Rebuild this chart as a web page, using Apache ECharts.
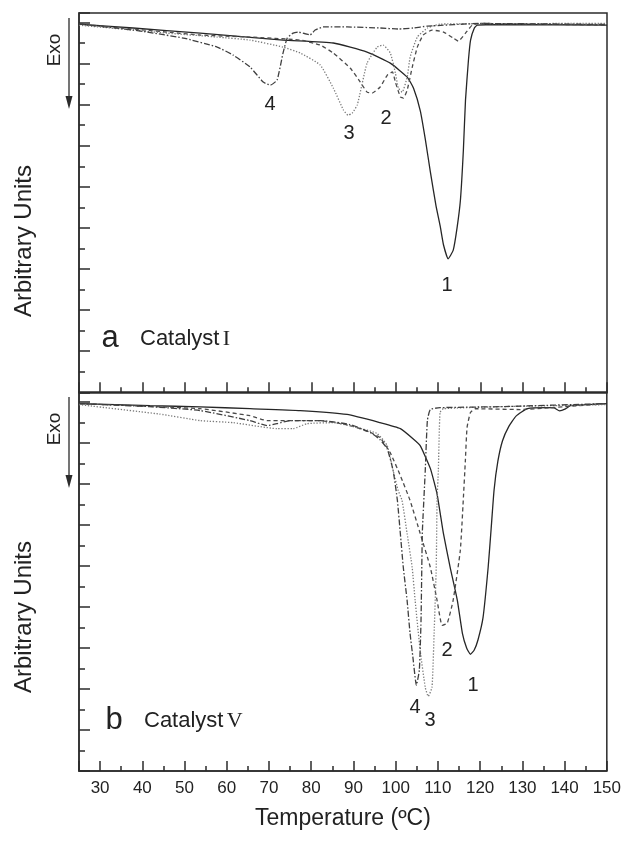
<!DOCTYPE html>
<html>
<head>
<meta charset="utf-8">
<script src="https://cdn.jsdelivr.net/npm/echarts@6/dist/echarts.min.js"></script>
<style>
html, body { margin: 0; padding: 0; background: #fff; }
#chart { width: 624px; height: 844px; }
</style>
</head>
<body>
<div id="chart"></div>
<script>
// DSC traces, [temperature (ºC), heat flow (arbitrary units)]
// panel a: Catalyst I
const a1 = [[25,-0.08],[37.8,-0.27],[53.7,-0.52],[73.3,-0.86],[85.2,-1.0],[93.2,-1.44],[98.7,-1.98],[102.7,-2.66],[104.2,-3.2],[105.8,-4.3],[107,-5.7],[108.2,-7.3],[109.5,-8.9],[110.5,-9.9],[111.3,-10.83],[112.4,-11.5],[113.6,-11.08],[114.5,-10.0],[115.3,-8.64],[116,-6.21],[116.5,-3.78],[117.2,-1.83],[117.7,-0.86],[118.6,-0.27],[119.3,-0.13],[125,-0.1],[150,-0.13]];
const a2 = [[25,-0.08],[53.7,-0.61],[65.5,-0.71],[77.4,-0.86],[82.1,-1.1],[85.2,-1.49],[89.2,-2.22],[91.6,-2.9],[93.2,-3.39],[94.4,-3.44],[96.3,-3.14],[98,-2.56],[99.2,-2.41],[99.9,-2.9],[101.1,-3.63],[101.8,-3.68],[102.7,-3.29],[103.9,-2.17],[105.1,-1.2],[106.5,-0.61],[108.6,-0.37],[111.3,-0.47],[113.6,-0.76],[114.8,-0.91],[116.5,-0.52],[118.1,-0.13],[120,-0.05],[150,-0.13]];
const a3 = [[25,-0.13],[45.9,-0.52],[57.7,-0.71],[65.5,-0.86],[73.3,-1.2],[77.4,-1.49],[82.1,-2.07],[85.2,-3.19],[87.6,-4.26],[88.7,-4.51],[89.7,-4.41],[90.9,-4.0],[93.2,-1.98],[95.6,-1.2],[97,-1.1],[98.7,-1.49],[99.9,-2.46],[100.6,-3.19],[101.5,-3.39],[102.7,-2.66],[103.4,-1.68],[105.1,-0.71],[107.5,-0.27],[110.5,-0.08],[150,-0.05]];
const a4 = [[25,-0.08],[37.8,-0.37],[49.7,-0.76],[57.7,-1.2],[61.5,-1.59],[65.5,-2.17],[68.6,-2.9],[70.3,-3.05],[71.9,-2.8],[73.3,-1.49],[74.3,-0.76],[75.7,-0.52],[76.9,-0.47],[78.6,-0.55],[79.7,-0.61],[80.9,-0.37],[82.8,-0.22],[88.5,-0.22],[96.3,-0.27],[100.6,-0.32],[104.1,-0.27],[107.5,-0.18],[120,-0.05],[150,-0.1]];
// panel b: Catalyst V
const b1 = [[25,-0.09],[41.8,-0.19],[53.7,-0.25],[65.5,-0.34],[77.4,-0.43],[88.5,-0.62],[96.3,-1.02],[101.1,-1.31],[104.1,-1.8],[105.8,-2.14],[108.2,-3.25],[109.8,-4.5],[111.3,-6.42],[112.9,-8.07],[114.6,-9.68],[115.8,-11.29],[116.8,-12.0],[117.7,-12.31],[118.6,-12.1],[119.5,-11.6],[120.7,-10.5],[121.9,-8.07],[122.6,-6.2],[123.3,-4.3],[124.2,-2.9],[125.3,-1.9],[126.8,-1.2],[128.5,-0.7],[131.2,-0.34],[135.9,-0.29],[137.5,-0.3],[138.8,-0.45],[140.2,-0.35],[141.4,-0.19],[150,-0.09]];
const b2 = [[25,-0.09],[53.7,-0.34],[65.5,-0.68],[69.5,-0.92],[82.1,-0.92],[89.2,-1.16],[94,-1.5],[96.3,-1.75],[98.7,-2.48],[101.1,-3.6],[103.4,-4.81],[105.8,-6.42],[108.2,-8.07],[109.8,-9.68],[111,-10.9],[112.2,-10.8],[113.6,-9.68],[115.3,-7.25],[116,-4.81],[116.5,-2.87],[116.9,-1.26],[117.7,-0.53],[118.8,-0.34],[129.5,-0.38],[136.6,-0.29],[150,-0.09]];
const b3 = [[25,-0.14],[44,-0.6],[53.7,-0.92],[61.5,-1.02],[71.9,-1.31],[75.7,-1.31],[79,-1.07],[85.2,-1.02],[90.9,-1.26],[95.6,-1.55],[98,-2.14],[99.4,-3.36],[100.6,-4.33],[101.5,-4.81],[102.7,-6.42],[103.9,-8.07],[104.6,-9.68],[105.8,-12.12],[107,-13.92],[107.7,-14.36],[108.6,-13.92],[109.1,-11.29],[109.6,-8.07],[109.8,-4.81],[110.1,-3.36],[110.5,-0.53],[111.3,-0.34],[124.8,-0.24],[150,-0.14]];
const b4 = [[25,-0.09],[41.8,-0.24],[53.7,-0.43],[65.5,-0.92],[69.5,-1.16],[71.9,-1.07],[75,-0.92],[82.1,-0.92],[89.2,-1.11],[94,-1.5],[96.3,-1.85],[98,-2.3],[99.4,-3.36],[100.4,-4.81],[101.1,-6.42],[101.8,-8.07],[102.7,-9.68],[103.4,-11.29],[104.1,-12.5],[104.9,-13.82],[105.6,-13.08],[106,-10.65],[106.3,-6.42],[106.5,-5.5],[107,-3.36],[107.5,-0.92],[108.2,-0.38],[110.5,-0.29],[124.8,-0.24],[150,-0.09]];

const tempTicks = [30, 40, 50, 60, 70, 80, 90, 100, 110, 120, 130, 140, 150];
const tempRange = [25, 150];
const heatRange = [-18, 0.46];

const ink = '#2b2b2b';
const font = 'Liberation Sans, Arial, sans-serif';

function xAxes(grid, withLabels) {
    return [
        {
            type: 'value', gridIndex: grid, position: 'bottom', min: tempRange[0], max: tempRange[1], splitNumber: 12,
            axisLine: {onZero: false, lineStyle: {color: ink, width: 1.5}},
            axisTick: {inside: true, length: 10, lineStyle: {color: ink, width: 1.5}},
            axisLabel: withLabels ? {
                show: true, color: '#222', fontSize: 17, fontFamily: font, margin: 9,
                formatter: v => tempTicks.indexOf(v) >= 0 ? String(v) : ''
            } : {show: false},
            splitLine: {show: false},
            name: withLabels ? 'Temperature (ºC)' : '',
            nameLocation: 'middle', nameGap: 36,
            nameTextStyle: {color: '#222', fontSize: 23, fontFamily: font}
        },
        {
            type: 'value', gridIndex: grid, position: 'bottom', min: tempRange[0], max: tempRange[1], interval: 5,
            axisLine: {show: false, onZero: false},
            axisTick: {inside: true, length: 5, lineStyle: {color: ink, width: 1.5}},
            axisLabel: {show: false}, splitLine: {show: false}
        }
    ];
}

function yAxes(grid) {
    return [
        {
            type: 'value', gridIndex: grid, position: 'left', min: heatRange[0], max: heatRange[1], interval: 2,
            axisLine: {onZero: false, lineStyle: {color: ink, width: 1.5}},
            axisTick: {inside: true, length: 11, lineStyle: {color: ink, width: 1.5}},
            axisLabel: {show: false}, splitLine: {show: false}
        },
        {
            type: 'value', gridIndex: grid, position: 'left', min: heatRange[0], max: heatRange[1], interval: 1,
            axisLine: {show: false, onZero: false},
            axisTick: {inside: true, length: 6, lineStyle: {color: ink, width: 1.5}},
            axisLabel: {show: false}, splitLine: {show: false}
        }
    ];
}

const styles = [
    {color: '#262626', type: 'solid', width: 1.3},
    {color: '#4a4a4a', type: [4, 3], width: 1.3},
    {color: '#7a7a7a', type: [1.3, 1.7], width: 1.3},
    {color: '#3f3f3f', type: [6, 2, 1.5, 2], width: 1.3}
];

function trace(data, grid, k) {
    return {
        type: 'line', data: data, xAxisIndex: grid * 2, yAxisIndex: grid * 2,
        showSymbol: false, symbol: 'none', smooth: 0.15, silent: true,
        lineStyle: styles[k]
    };
}

function txt(x, y, text, size, extra) {
    return Object.assign({
        type: 'text', x: x, y: y,
        style: {text: text, fill: '#222', font: size + 'px ' + font, align: 'center', verticalAlign: 'middle'}
    }, extra || {});
}

function exo(top) {
    return [
        {type: 'line', shape: {x1: 69, y1: top, x2: 69, y2: top + 80}, style: {stroke: ink, lineWidth: 1.3}},
        {type: 'polygon', shape: {points: [[65.5, top + 78], [72.5, top + 78], [69, top + 91]]}, style: {fill: ink}},
        txt(55, top + 32, 'Exo', 19, {rotation: Math.PI / 2})
    ];
}

function catalyst(x, y, letter, roman) {
    return [
        txt(x, y, letter, 31),
        {
            type: 'text', x: x + 30, y: y + 1,
            style: {
                text: '{c|Catalyst} {r|' + roman + '}', align: 'left', verticalAlign: 'middle',
                rich: {
                    c: {fill: '#222', fontSize: 22, fontFamily: font},
                    r: {fill: '#222', fontSize: 22, fontFamily: 'Liberation Serif, Times New Roman, serif'}
                }
            }
        }
    ];
}

const chart = echarts.init(document.getElementById('chart'), null, {renderer: 'canvas'});
chart.setOption({
    animation: false,
    backgroundColor: '#fff',
    grid: [
        {left: 79, top: 13, width: 528, height: 379.3, show: true, borderColor: ink, borderWidth: 1.5},
        {left: 79, top: 392.3, width: 528, height: 378.7, show: true, borderColor: ink, borderWidth: 1.5}
    ],
    xAxis: xAxes(0, false).concat(xAxes(1, true)),
    yAxis: yAxes(0).concat(yAxes(1)),
    series: [
        trace(a1, 0, 0), trace(a2, 0, 1), trace(a3, 0, 2), trace(a4, 0, 3),
        trace(b1, 1, 0), trace(b2, 1, 1), trace(b3, 1, 2), trace(b4, 1, 3)
    ],
    graphic: [].concat(
        exo(18), exo(397),
        [
            txt(24, 241, 'Arbitrary Units', 24, {rotation: Math.PI / 2}),
            txt(24, 617, 'Arbitrary Units', 24, {rotation: Math.PI / 2}),
            txt(270, 104, '4', 20), txt(349, 133, '3', 20), txt(386, 118, '2', 20), txt(447, 285, '1', 20),
            txt(415, 707, '4', 20), txt(430, 720, '3', 20), txt(447, 650, '2', 20), txt(473, 685, '1', 20)
        ],
        catalyst(110, 338, 'a', 'I'),
        catalyst(114, 720, 'b', 'V')
    )
});
</script>
</body>
</html>
